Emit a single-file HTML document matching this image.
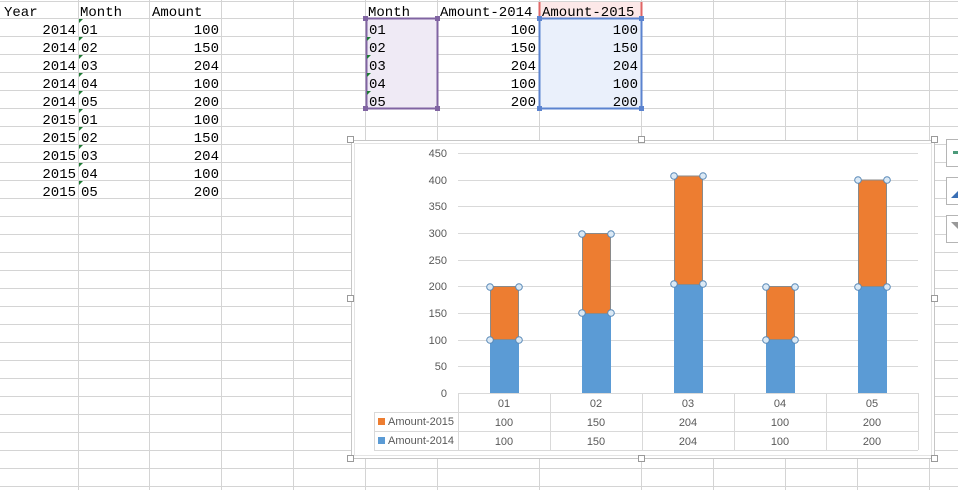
<!DOCTYPE html>
<html><head><style>
body{margin:0;width:958px;height:490px;overflow:hidden;background:#fff}
svg{display:block}
.c{font-family:"Liberation Mono","Noto Sans CJK SC",monospace;font-size:14px;fill:#000}
.a{font-family:"Liberation Sans",sans-serif;font-size:11px;fill:#595959}
</style></head><body>
<svg width="958" height="490" xmlns="http://www.w3.org/2000/svg">
<g stroke="#d4d4d4" stroke-width="1">
<line x1="78.5" y1="0" x2="78.5" y2="490"/><line x1="149.5" y1="0" x2="149.5" y2="490"/>
<line x1="221.5" y1="0" x2="221.5" y2="490"/><line x1="293.5" y1="0" x2="293.5" y2="490"/>
<line x1="365.5" y1="0" x2="365.5" y2="490"/><line x1="437.5" y1="0" x2="437.5" y2="490"/>
<line x1="539.5" y1="0" x2="539.5" y2="490"/><line x1="641.5" y1="0" x2="641.5" y2="490"/>
<line x1="713.5" y1="0" x2="713.5" y2="490"/><line x1="785.5" y1="0" x2="785.5" y2="490"/>
<line x1="857.5" y1="0" x2="857.5" y2="490"/><line x1="929.5" y1="0" x2="929.5" y2="490"/>
<line x1="0" y1="1.5" x2="958" y2="1.5"/>
<line x1="0" y1="18.5" x2="958" y2="18.5"/><line x1="0" y1="36.5" x2="958" y2="36.5"/>
<line x1="0" y1="54.5" x2="958" y2="54.5"/><line x1="0" y1="72.5" x2="958" y2="72.5"/>
<line x1="0" y1="90.5" x2="958" y2="90.5"/><line x1="0" y1="108.5" x2="958" y2="108.5"/>
<line x1="0" y1="126.5" x2="958" y2="126.5"/><line x1="0" y1="144.5" x2="958" y2="144.5"/>
<line x1="0" y1="162.5" x2="958" y2="162.5"/><line x1="0" y1="180.5" x2="958" y2="180.5"/>
<line x1="0" y1="198.5" x2="958" y2="198.5"/><line x1="0" y1="216.5" x2="958" y2="216.5"/>
<line x1="0" y1="234.5" x2="958" y2="234.5"/><line x1="0" y1="252.5" x2="958" y2="252.5"/>
<line x1="0" y1="270.5" x2="958" y2="270.5"/><line x1="0" y1="288.5" x2="958" y2="288.5"/>
<line x1="0" y1="306.5" x2="958" y2="306.5"/><line x1="0" y1="324.5" x2="958" y2="324.5"/>
<line x1="0" y1="342.5" x2="958" y2="342.5"/><line x1="0" y1="360.5" x2="958" y2="360.5"/>
<line x1="0" y1="378.5" x2="958" y2="378.5"/><line x1="0" y1="396.5" x2="958" y2="396.5"/>
<line x1="0" y1="414.5" x2="958" y2="414.5"/><line x1="0" y1="432.5" x2="958" y2="432.5"/>
<line x1="0" y1="450.5" x2="958" y2="450.5"/><line x1="0" y1="468.5" x2="958" y2="468.5"/>
<line x1="0" y1="486.5" x2="958" y2="486.5"/>
</g>
<!-- selection ranges -->
<rect x="366" y="19" width="71" height="90" fill="#efeaf5"/>
<rect x="540" y="19" width="101" height="90" fill="#eaf0fb"/>
<rect x="540" y="2" width="101" height="16" fill="#fce8e8"/>
<rect x="366.5" y="18.5" width="71" height="90" fill="none" stroke="#8064a2" stroke-width="2"/>
<rect x="539.5" y="18.5" width="102" height="90" fill="none" stroke="#5b83cf" stroke-width="2"/>
<line x1="539.5" y1="2" x2="539.5" y2="17" stroke="#e06666" stroke-width="2"/>
<line x1="641.5" y1="2" x2="641.5" y2="17" stroke="#e06666" stroke-width="2"/>
<g fill="#8064a2"><rect x="363" y="16" width="5" height="5"/><rect x="435" y="16" width="5" height="5"/><rect x="363" y="106" width="5" height="5"/><rect x="435" y="106" width="5" height="5"/></g>
<g fill="#5b83cf"><rect x="537" y="16" width="5" height="5"/><rect x="639" y="16" width="5" height="5"/><rect x="537" y="106" width="5" height="5"/><rect x="639" y="106" width="5" height="5"/></g>
<!-- green triangles -->
<g fill="#1e7b34">
<path d="M79,19h4l-4,4z"/><path d="M79,37h4l-4,4z"/><path d="M79,55h4l-4,4z"/><path d="M79,73h4l-4,4z"/><path d="M79,91h4l-4,4z"/>
<path d="M79,109h4l-4,4z"/><path d="M79,127h4l-4,4z"/><path d="M79,145h4l-4,4z"/><path d="M79,163h4l-4,4z"/><path d="M79,181h4l-4,4z"/>
<path d="M367,37h4l-4,4z"/><path d="M367,55h4l-4,4z"/><path d="M367,73h4l-4,4z"/><path d="M367,91h4l-4,4z"/>
</g>
<g class="c">
<text x="4" y="16">Year</text><text x="80" y="16">Month</text><text x="152" y="16">Amount</text>
<g text-anchor="end">
<text x="76" y="34">2014</text><text x="76" y="52">2014</text><text x="76" y="70">2014</text><text x="76" y="88">2014</text><text x="76" y="106">2014</text>
<text x="76" y="124">2015</text><text x="76" y="142">2015</text><text x="76" y="160">2015</text><text x="76" y="178">2015</text><text x="76" y="196">2015</text>
<text x="219" y="34">100</text><text x="219" y="52">150</text><text x="219" y="70">204</text><text x="219" y="88">100</text><text x="219" y="106">200</text>
<text x="219" y="124">100</text><text x="219" y="142">150</text><text x="219" y="160">204</text><text x="219" y="178">100</text><text x="219" y="196">200</text>
<text x="536" y="34">100</text><text x="536" y="52">150</text><text x="536" y="70">204</text><text x="536" y="88">100</text><text x="536" y="106">200</text>
<text x="638" y="34">100</text><text x="638" y="52">150</text><text x="638" y="70">204</text><text x="638" y="88">100</text><text x="638" y="106">200</text>
</g>
<text x="81" y="34">01</text><text x="81" y="52">02</text><text x="81" y="70">03</text><text x="81" y="88">04</text><text x="81" y="106">05</text>
<text x="81" y="124">01</text><text x="81" y="142">02</text><text x="81" y="160">03</text><text x="81" y="178">04</text><text x="81" y="196">05</text>
<text x="368" y="16">Month</text><text x="440" y="16">Amount-2014</text><text x="542" y="16">Amount-2015</text>
<text x="369" y="34">01</text><text x="369" y="52">02</text><text x="369" y="70">03</text><text x="369" y="88">04</text><text x="369" y="106">05</text>
</g>
<!-- chart -->
<rect x="351.5" y="140.5" width="583" height="318" fill="#fff" stroke="#c6c6c6"/>
<rect x="354.5" y="143.5" width="577" height="312" fill="#fff" stroke="#e4e4e4"/>
<g fill="#fff" stroke="#9a9a9a"><rect x="347.5" y="136.5" width="6" height="6"/><rect x="638.5" y="136.5" width="6" height="6"/><rect x="931.5" y="136.5" width="6" height="6"/>
<rect x="347.5" y="295.5" width="6" height="6"/><rect x="931.5" y="295.5" width="6" height="6"/>
<rect x="347.5" y="455.5" width="6" height="6"/><rect x="638.5" y="455.5" width="6" height="6"/><rect x="931.5" y="455.5" width="6" height="6"/></g>
<g stroke="#d9d9d9">
<line x1="458" y1="153.5" x2="918" y2="153.5"/><line x1="458" y1="180.5" x2="918" y2="180.5"/>
<line x1="458" y1="206.5" x2="918" y2="206.5"/><line x1="458" y1="233.5" x2="918" y2="233.5"/>
<line x1="458" y1="260.5" x2="918" y2="260.5"/><line x1="458" y1="286.5" x2="918" y2="286.5"/>
<line x1="458" y1="313.5" x2="918" y2="313.5"/><line x1="458" y1="340.5" x2="918" y2="340.5"/>
<line x1="458" y1="366.5" x2="918" y2="366.5"/>
</g>
<g class="a" text-anchor="end">
<text x="447" y="157">450</text><text x="447" y="184">400</text><text x="447" y="210">350</text><text x="447" y="237">300</text>
<text x="447" y="264">250</text><text x="447" y="290">200</text><text x="447" y="317">150</text><text x="447" y="344">100</text>
<text x="447" y="370">50</text><text x="447" y="397">0</text>
</g>
<!-- bars -->
<g fill="#5b9bd5">
<rect x="490" y="340" width="29" height="53"/><rect x="582" y="313" width="29" height="80"/>
<rect x="674" y="284.2" width="29" height="108.8"/><rect x="766" y="340" width="29" height="53"/>
<rect x="858" y="286.3" width="29" height="106.7"/>
</g>
<g fill="#ed7d31" stroke="#8a8a8a">
<rect x="490.5" y="286.5" width="28" height="53"/><rect x="582.5" y="233.5" width="28" height="80"/>
<rect x="674.5" y="176" width="28" height="108.5"/><rect x="766.5" y="286.5" width="28" height="53"/>
<rect x="858.5" y="180" width="28" height="106.5"/>
</g>
<g fill="#dbe9f5" stroke="#5a8ab8">
<circle cx="490" cy="287" r="3.3"/><circle cx="519" cy="287" r="3.3"/><circle cx="490" cy="340" r="3.3"/><circle cx="519" cy="340" r="3.3"/>
<circle cx="582" cy="234" r="3.3"/><circle cx="611" cy="234" r="3.3"/><circle cx="582" cy="313" r="3.3"/><circle cx="611" cy="313" r="3.3"/>
<circle cx="674" cy="176" r="3.3"/><circle cx="703" cy="176" r="3.3"/><circle cx="674" cy="284" r="3.3"/><circle cx="703" cy="284" r="3.3"/>
<circle cx="766" cy="287" r="3.3"/><circle cx="795" cy="287" r="3.3"/><circle cx="766" cy="340" r="3.3"/><circle cx="795" cy="340" r="3.3"/>
<circle cx="858" cy="180" r="3.3"/><circle cx="887" cy="180" r="3.3"/><circle cx="858" cy="287" r="3.3"/><circle cx="887" cy="287" r="3.3"/>
</g>
<!-- data table -->
<g stroke="#d9d9d9" fill="none">
<line x1="458" y1="393.5" x2="918" y2="393.5"/>
<line x1="374" y1="412.5" x2="918" y2="412.5"/><line x1="374" y1="431.5" x2="918" y2="431.5"/><line x1="374" y1="450.5" x2="918" y2="450.5"/>
<line x1="374.5" y1="412" x2="374.5" y2="450"/><line x1="458.5" y1="393" x2="458.5" y2="450"/>
<line x1="550.5" y1="393" x2="550.5" y2="450"/><line x1="642.5" y1="393" x2="642.5" y2="450"/>
<line x1="734.5" y1="393" x2="734.5" y2="450"/><line x1="826.5" y1="393" x2="826.5" y2="450"/>
<line x1="918.5" y1="393" x2="918.5" y2="450"/>
</g>
<rect x="378" y="418" width="7" height="7" fill="#ed7d31"/><rect x="378" y="437" width="7" height="7" fill="#5b9bd5"/>
<g class="a">
<text x="388" y="425">Amount-2015</text><text x="388" y="444">Amount-2014</text>
<g text-anchor="middle">
<text x="504" y="407">01</text><text x="596" y="407">02</text><text x="688" y="407">03</text><text x="780" y="407">04</text><text x="872" y="407">05</text>
<text x="504" y="426">100</text><text x="596" y="426">150</text><text x="688" y="426">204</text><text x="780" y="426">100</text><text x="872" y="426">200</text>
<text x="504" y="445">100</text><text x="596" y="445">150</text><text x="688" y="445">204</text><text x="780" y="445">100</text><text x="872" y="445">200</text>
</g></g>
<!-- side buttons -->
<g fill="#fff" stroke="#b5b5b5">
<rect x="946.5" y="139.5" width="20" height="27"/><rect x="946.5" y="177.5" width="20" height="27"/><rect x="946.5" y="215.5" width="20" height="27"/>
</g>
<rect x="953" y="151" width="6" height="3" fill="#4c9a7a"/>
<path d="M951,198 L958,191 L958,198z" fill="#3a6fb5"/>
<path d="M951,222 L958,222 L958,229z" fill="#999"/>
</svg>
</body></html>
